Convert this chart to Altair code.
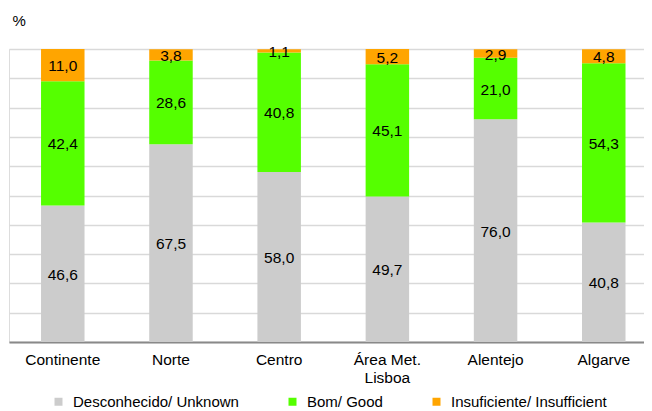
import altair as alt
import pandas as pd

regions = ["Continente", "Norte", "Centro", "Área Met. Lisboa", "Alentejo", "Algarve"]
series = ["Desconhecido/ Unknown", "Bom/ Good", "Insuficiente/ Insufficient"]
unknown = [46.6, 67.5, 58.0, 49.7, 76.0, 40.8]
good = [42.4, 28.6, 40.8, 45.1, 21.0, 54.3]
insufficient = [11.0, 3.8, 1.1, 5.2, 2.9, 4.8]
colors = ["#CCCCCC", "#55FF00", "#FFA500"]
grid_values = [0, 10, 20, 30, 40, 50, 60, 70, 80, 90, 100]

rows = []
for i, r in enumerate(regions):
    for k, (s, vals) in enumerate(zip(series, [unknown, good, insufficient])):
        rows.append({"region": r, "series": s, "order": k, "value": vals[i]})
df = pd.DataFrame(rows)

FONT = "Liberation Sans"

base = alt.Chart(df).transform_stack(
    stack="value", as_=["y0", "y1"], groupby=["region"],
    sort=[alt.SortField(field="order", order="ascending")]
).transform_calculate(
    mid="(datum.y0 + datum.y1) / 2",
    label="replace(format(datum.value, '.1f'), '.', ',')"
)

x_scale = alt.Scale(paddingInner=0.598, paddingOuter=0.2335, align=0.634, round=False)
x_axis = alt.Axis(
    title=None, labelAngle=0, ticks=False, domainColor="#898989", domainWidth=2,
    labelFontSize=15.5, labelFont=FONT, labelColor="black", labelPadding=10,
    labelLineHeight=18, grid=False,
    labelExpr="datum.value == 'Área Met. Lisboa' ? ['Área Met.', 'Lisboa'] : datum.value",
)
y_scale = alt.Scale(domain=[0, 100], nice=False)
y_axis = alt.Axis(
    title="%", titleAngle=0, titleAlign="left", titleBaseline="middle", titleX=3, titleY=-29,
    titleFontSize=15, titleFont=FONT, titleFontWeight="normal", titleColor="black",
    labels=False, ticks=False, domain=False, grid=True, gridColor="#d9d9d9", gridWidth=1.3,
    values=grid_values,
)

bars = base.mark_bar().encode(
    x=alt.X("region:N", sort=regions, scale=x_scale, axis=x_axis),
    y=alt.Y("y0:Q", scale=y_scale, axis=y_axis),
    y2="y1:Q",
    color=alt.Color(
        "series:N", sort=series, scale=alt.Scale(domain=series, range=colors),
        legend=alt.Legend(
            title=None, orient="none", legendX=42, legendY=345, direction="horizontal",
            columns=3, symbolType="square", symbolSize=64, symbolStrokeWidth=0,
            labelFontSize=15, labelFont=FONT, labelColor="black", labelOffset=7,
            labelLimit=400, columnPadding=46,
        ),
    ),
)

text = base.mark_text(fontSize=15.5, font=FONT, color="black", baseline="middle", dy=1).encode(
    x=alt.X("region:N", sort=regions, scale=x_scale, axis=x_axis),
    y=alt.Y("mid:Q", scale=y_scale, axis=y_axis),
    text="label:N",
)

chart = (bars + text).properties(
    width=635, height=293,
    padding={"left": 1, "top": 41, "right": 0, "bottom": 69},
    autosize=alt.AutoSizeParams(type="none"),
).configure_view(stroke=None).configure(background="white")

chart.save("out.html", embed_options={"renderer": "svg", "actions": False})
